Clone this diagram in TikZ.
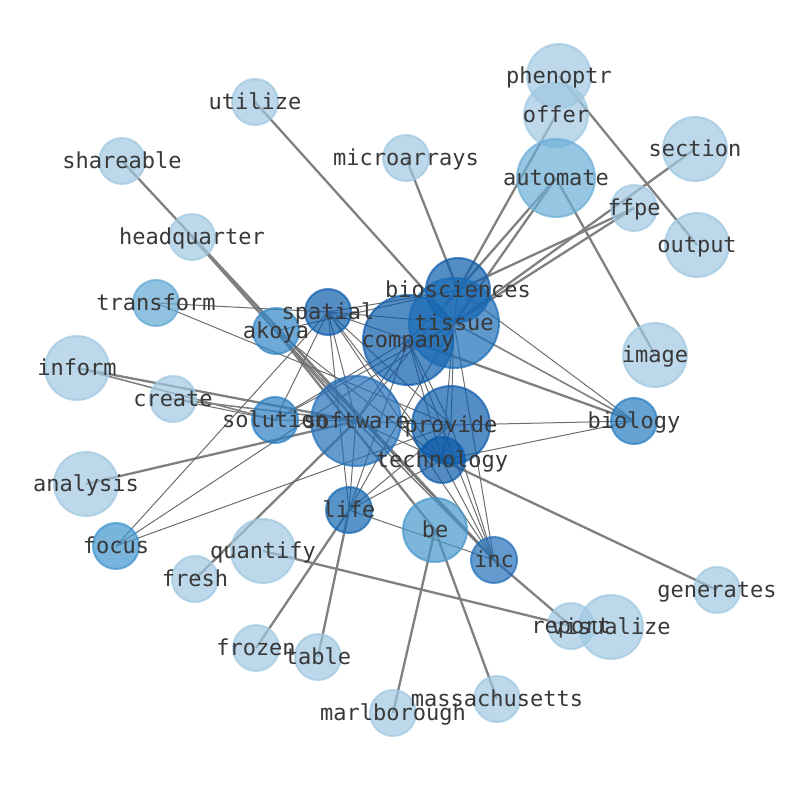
\documentclass[tikz,border=0pt]{standalone}
\usepackage{fontspec}
\setmonofont{DejaVu Sans Mono}
\definecolor{cL}{HTML}{9FC7E1}
\definecolor{cT}{HTML}{62A9D4}
\definecolor{cA}{HTML}{69AED6}
\definecolor{cB}{HTML}{4597CA}
\definecolor{cF}{HTML}{3E94CD}
\definecolor{cK}{HTML}{3086C6}
\definecolor{cS}{HTML}{297EC2}
\definecolor{cG}{HTML}{267CBF}
\definecolor{cW}{HTML}{2270B9}
\definecolor{cE}{HTML}{1366B0}
\definecolor{cI}{HTML}{1A6CB6}
\definecolor{cD}{HTML}{0C5BAB}
\definecolor{cN}{HTML}{0A5AA8}
\definecolor{edgegray}{HTML}{808080}
\definecolor{txt}{HTML}{383838}
\tikzset{
  nd/.style={circle, inner sep=0pt, line width=2pt, fill opacity=0.7, draw opacity=0.7},
  lbl/.style={font=\ttfamily\fontsize{22}{24}\selectfont, text=txt, inner sep=0pt,
    anchor=base, yshift=-7.5pt},
  thickedge/.style={draw=edgegray, line width=2.3pt},
  midedge/.style={draw=edgegray, line width=1.6pt},
  thinedge/.style={draw=edgegray!85!black, line width=1pt},
}
\begin{document}
\begin{tikzpicture}[x=1pt,y=-1pt]
\useasboundingbox (0,0) rectangle (794,790);
\foreach \n/\x/\y in {
 phenoptr/559/76, offer/556/115, automate/556/178, section/695/149, ffpe/634/208,
 output/697/245, microarrays/406/158, utilize/255/102, shareable/122/161,
 headquarter/192/237, transform/156/303, akoya/276/331, spatial/328/312,
 biosciences/458/290, tissue/454/323, company/408/340, inform/77/368,
 create/173/399, image/655/355, solution/275/420, software/356/421,
 provide/451/425, biology/634/421, technology/442/460, analysis/86/484,
 life/349/510, be/435/530, inc/494/560, focus/116/546, quantify/263/551,
 fresh/195/579, generates/717/590, report/571/626, visualize/611/627,
 frozen/256/648, table/318/657, massachusetts/497/699, marlborough/393/713}
 \coordinate (\n) at (\x,\y);
% edges
\foreach \a/\b in {phenoptr/output, offer/biosciences, automate/biosciences,
 automate/tissue, automate/image, section/tissue, ffpe/tissue, ffpe/biosciences,
 microarrays/biosciences, utilize/tissue, shareable/inc, headquarter/software,
 headquarter/inc, inform/software, analysis/software, quantify/report,
 fresh/software, frozen/life, table/life, marlborough/be, massachusetts/be,
 report/inc, generates/technology, company/biology, akoya/be}
 \draw[thickedge] (\a) -- (\b);
\foreach \a/\b in {inform/solution, create/software, software/inc, akoya/software,
 tissue/biology}
 \draw[midedge] (\a) -- (\b);
\foreach \a/\b in {transform/spatial, transform/provide, focus/spatial, focus/tissue,
 focus/provide, biosciences/biology, provide/biology, technology/biology,
 spatial/biosciences, spatial/tissue, spatial/company, spatial/software,
 spatial/provide, spatial/technology, spatial/life, spatial/inc,
 akoya/biosciences, akoya/technology, akoya/inc, solution/spatial,
 solution/company, solution/tissue, create/solution, life/software, life/company,
 life/tissue, life/provide, life/technology, life/inc, company/provide,
 company/technology, company/inc, tissue/provide, tissue/technology, tissue/inc,
 provide/technology, provide/inc, technology/inc, software/provide,
 software/technology, software/biosciences, software/company,
 biosciences/company, biosciences/tissue, software/solution}
 \draw[thinedge] (\a) -- (\b);
% nodes
\foreach \n/\d/\c in {
 phenoptr/64/cL, offer/64/cL, automate/78/cA, section/64/cL, ffpe/46/cL,
 output/64/cL, microarrays/46/cL, utilize/46/cL, shareable/46/cL,
 headquarter/46/cL, transform/46/cT, akoya/46/cK, spatial/46/cD,
 company/90/cD, biosciences/64/cD, tissue/90/cI, inform/64/cL,
 create/46/cL, image/64/cL, solution/46/cS, software/90/cW,
 provide/78/cD, biology/46/cG, technology/46/cN, analysis/64/cL,
 life/46/cE, be/64/cB, inc/46/cW, focus/46/cF, quantify/64/cL,
 fresh/46/cL, generates/46/cL, report/46/cL, visualize/64/cL,
 frozen/46/cL, table/46/cL, massachusetts/46/cL, marlborough/46/cL}
 \node[nd, minimum size=\d pt, fill=\c, draw=\c] (\n-c) at (\n) {};
% labels
\foreach \n in {phenoptr, offer, automate, section, ffpe, output, microarrays,
 utilize, shareable, headquarter, transform, akoya, spatial, biosciences, tissue,
 company, inform, create, image, solution, software, provide, biology,
 technology, analysis, life, be, inc, focus, quantify, fresh, generates, report,
 visualize, frozen, table, massachusetts, marlborough}
 \node[lbl] (\n-l) at (\n) {\n};
\end{tikzpicture}
\end{document}
